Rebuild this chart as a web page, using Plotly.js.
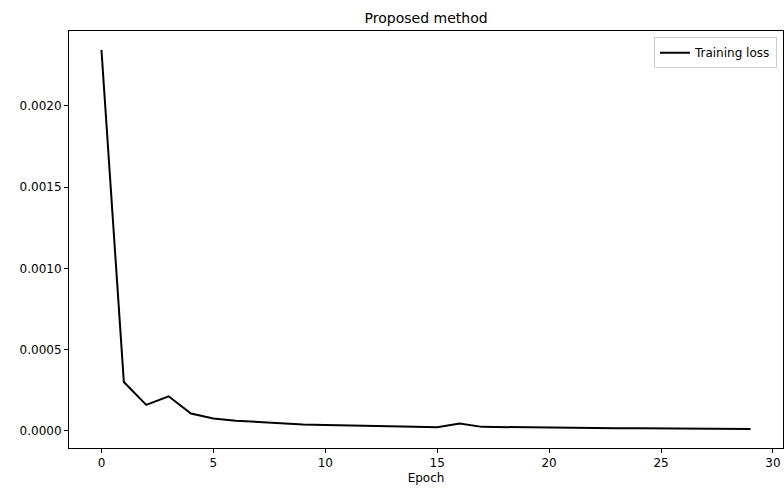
<!DOCTYPE html>
<html>
<head>
<meta charset="utf-8">
<script src="https://cdn.plot.ly/plotly-3.0.1.min.js"></script>
<style>html,body{margin:0;padding:0;background:#fff;}#chart{width:784px;height:493px;}</style>
</head>
<body>
<div id="chart"></div>
<script>
const epochs = [0,1,2,3,4,5,6,7,8,9,10,11,12,13,14,15,16,17,18,19,20,21,22,23,24,25,26,27,28,29];
const trainingLoss = [0.002344,0.000301,0.000160,0.000213,0.000107,0.000076,0.000063,0.000055,0.000049,0.000040,0.000037,0.000033,0.000029,0.000027,0.000025,0.000023,0.000045,0.000025,0.000023,0.000021,0.000020,0.000019,0.000018,0.000017,0.000016,0.000015,0.000015,0.000014,0.000013,0.000012];
const yTicks = [0,0.0005,0.0010,0.0015,0.0020];
const xTicks = [0,5,10,15,20,25,30];

const font = {family: 'DejaVu Sans, sans-serif', size: 12, color: '#000'};
Plotly.newPlot('chart', [{
  x: epochs, y: trainingLoss, type: 'scatter', mode: 'lines',
  name: 'Training loss', line: {color: '#000', width: 2}
}], {
  width: 784, height: 493,
  margin: {l: 69, r: 1, t: 31, b: 45},
  paper_bgcolor: '#fff', plot_bgcolor: '#fff',
  font: font,
  title: {text: 'Proposed method', x: 0.5435, xanchor: 'center', y: 0.963, yanchor: 'middle', font: {family: font.family, size: 14, color: '#000'}},
  xaxis: {
    range: [-1.45, 30.45], tickvals: xTicks, ticktext: xTicks.map(String),
    showgrid: false, zeroline: false, showline: true, linecolor: '#000', linewidth: 1, mirror: true,
    ticks: 'outside', ticklen: 4, tickcolor: '#000', tickwidth: 1,
    title: {text: 'Epoch', standoff: 4, font: {family: font.family, size: 12}}
  },
  yaxis: {
    range: [-0.000105, 0.00246], tickvals: yTicks, ticktext: yTicks.map(v => v.toFixed(4)),
    showgrid: false, zeroline: false, showline: true, linecolor: '#000', linewidth: 1, mirror: true,
    ticks: 'outside', ticklen: 4, tickcolor: '#000', tickwidth: 1
  },
  showlegend: true,
  legend: {x: 0.9915, xanchor: 'right', y: 0.985, yanchor: 'top', bgcolor: '#fff', bordercolor: '#ccc', borderwidth: 1, font: {family: font.family, size: 12}}
}, {displayModeBar: false, staticPlot: true});
</script>
</body>
</html>
